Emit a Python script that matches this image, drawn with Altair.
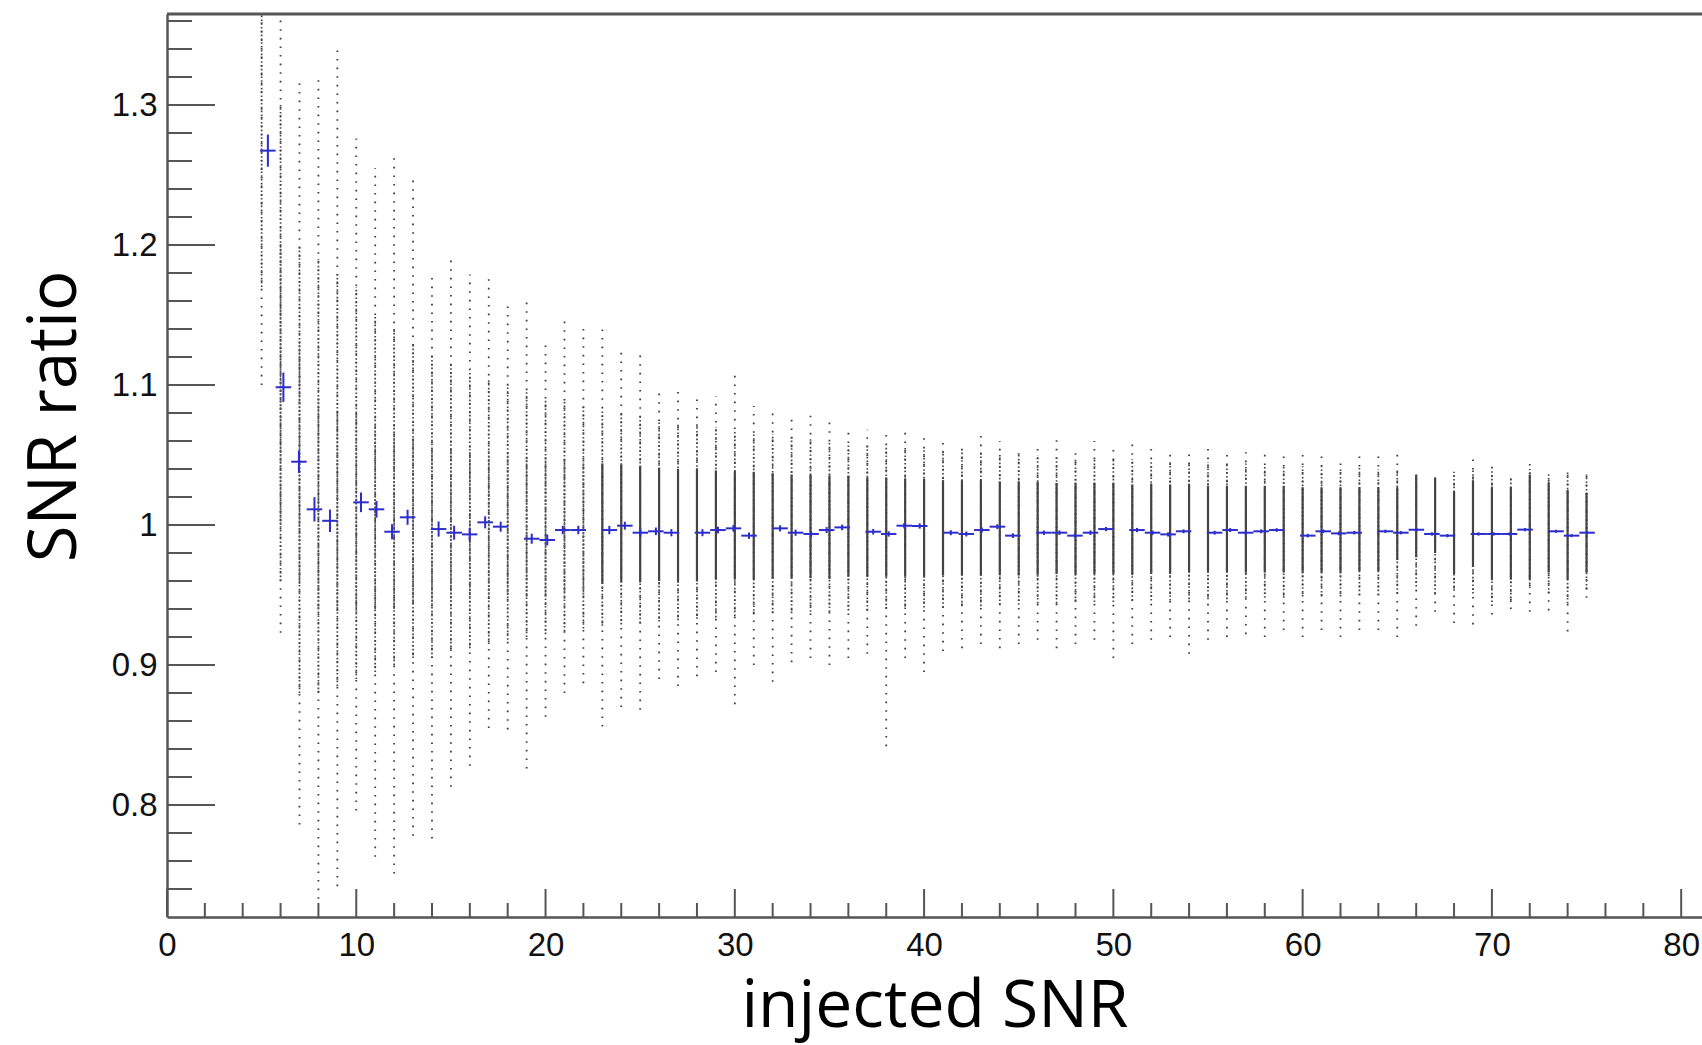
import altair as alt
import pandas as pd

# ---------------- data ----------------
# injected SNR of each scatter column
snr = [5, 6, 7, 8, 9, 10, 11, 12, 13, 14, 15, 16, 17, 18, 19, 20, 21, 22, 23, 24,
       25, 26, 27, 28, 29, 30, 31, 32, 33, 34, 35, 36, 37, 38, 39, 40, 41, 42, 43, 44,
       45, 46, 47, 48, 49, 50, 51, 52, 53, 54, 55, 56, 57, 58, 59, 60, 61, 62, 63, 64,
       65, 66, 67, 68, 69, 70, 71, 72, 73, 74, 75]
# outermost dots of each column
ext_hi = [1.365, 1.365, 1.320, 1.322, 1.339, 1.276, 1.255, 1.265, 1.249, 1.180, 1.192, 1.179, 1.177, 1.160, 1.159, 1.130, 1.146, 1.145, 1.140, 1.128,
          1.122, 1.095, 1.100, 1.093, 1.092, 1.108, 1.085, 1.082, 1.080, 1.078, 1.075, 1.070, 1.068, 1.066, 1.066, 1.062, 1.060, 1.058, 1.068, 1.060,
          1.055, 1.058, 1.062, 1.055, 1.060, 1.058, 1.062, 1.058, 1.055, 1.052, 1.055, 1.050, 1.052, 1.055, 1.052, 1.050, 1.052, 1.048, 1.050, 1.052,
          1.052, 1.036, 1.034, 1.038, 1.049, 1.043, 1.034, 1.045, 1.037, 1.039, 1.036]
ext_lo = [1.100, 0.923, 0.786, 0.733, 0.742, 0.796, 0.763, 0.751, 0.778, 0.776, 0.813, 0.828, 0.855, 0.854, 0.826, 0.863, 0.880, 0.887, 0.856, 0.870,
          0.868, 0.890, 0.885, 0.892, 0.895, 0.872, 0.900, 0.888, 0.902, 0.905, 0.900, 0.905, 0.908, 0.842, 0.905, 0.895, 0.910, 0.912, 0.915, 0.912,
          0.915, 0.918, 0.912, 0.915, 0.918, 0.905, 0.915, 0.918, 0.920, 0.908, 0.918, 0.920, 0.922, 0.920, 0.925, 0.920, 0.925, 0.920, 0.925, 0.925,
          0.920, 0.928, 0.938, 0.930, 0.929, 0.936, 0.940, 0.938, 0.939, 0.924, 0.948]
# medium-density part of each column
mid_hi = [1.365, 1.300, 1.200, 1.190, 1.180, 1.170, 1.150, 1.140, 1.130, 1.120, 1.115, 1.110, 1.105, 1.100, 1.095, 1.090, 1.090, 1.085, 1.082, 1.080,
          1.078, 1.075, 1.073, 1.072, 1.070, 1.068, 1.066, 1.065, 1.063, 1.062, 1.060, 1.058, 1.057, 1.056, 1.055, 1.054, 1.053, 1.052, 1.052, 1.051,
          1.050, 1.050, 1.049, 1.048, 1.048, 1.047, 1.047, 1.046, 1.046, 1.045, 1.045, 1.044, 1.044, 1.043, 1.043, 1.042, 1.042, 1.041, 1.041, 1.040,
          1.039, 1.036, 1.034, 1.038, 1.040, 1.040, 1.034, 1.040, 1.037, 1.039, 1.036]
mid_lo = [1.170, 0.960, 0.880, 0.880, 0.885, 0.890, 0.895, 0.900, 0.905, 0.905, 0.910, 0.912, 0.915, 0.918, 0.920, 0.922, 0.924, 0.926, 0.928, 0.929,
          0.930, 0.931, 0.932, 0.933, 0.934, 0.935, 0.936, 0.937, 0.937, 0.938, 0.938, 0.939, 0.939, 0.940, 0.940, 0.941, 0.941, 0.942, 0.942, 0.943,
          0.943, 0.944, 0.944, 0.945, 0.945, 0.945, 0.946, 0.946, 0.946, 0.947, 0.947, 0.947, 0.948, 0.948, 0.948, 0.949, 0.949, 0.949, 0.950, 0.950,
          0.951, 0.956, 0.951, 0.953, 0.951, 0.945, 0.945, 0.955, 0.951, 0.944, 0.954]
# denser (closely dotted) part of the low-SNR columns (None: not present)
dense_hi = [None, 1.200, 1.130, 1.090, 1.080, 1.080, 1.070, 1.065, 1.060, 1.055, 1.055, 1.052, 1.050, 1.050, 1.048, 1.046, 1.046, 1.045, None, None,
            None, None, None, None, None, None, None, None, None, None, None, None, None, None, None, None, None, None, None, None,
            None, None, None, None, None, None, None, None, None, None, None, None, None, None, None, None, None, None, None, None,
            None, None, None, None, None, None, None, None, None, None, None]
dense_lo = [None, 1.000, 0.960, 0.940, 0.940, 0.940, 0.940, 0.940, 0.945, 0.945, 0.945, 0.948, 0.948, 0.950, 0.950, 0.950, 0.952, 0.952, None, None,
            None, None, None, None, None, None, None, None, None, None, None, None, None, None, None, None, None, None, None, None,
            None, None, None, None, None, None, None, None, None, None, None, None, None, None, None, None, None, None, None, None,
            None, None, None, None, None, None, None, None, None, None, None]
# almost solid core of the higher-SNR columns (None: no core)
core_hi = [None, None, None, None, None, None, None, None, None, None, None, None, None, None, None, None, None, None, 1.044, 1.043,
           1.042, 1.041, 1.040, 1.040, 1.039, 1.038, 1.038, 1.037, 1.036, 1.036, 1.035, 1.035, 1.034, 1.034, 1.033, 1.033, 1.032, 1.032, 1.032, 1.031,
           1.031, 1.031, 1.030, 1.030, 1.030, 1.030, 1.029, 1.029, 1.029, 1.029, 1.028, 1.028, 1.028, 1.028, 1.028, 1.027, 1.027, 1.027, 1.027, 1.027,
           1.027, 1.036, 1.034, 1.024, 1.032, 1.027, 1.027, 1.036, 1.030, 1.025, 1.023]
core_lo = [None, None, None, None, None, None, None, None, None, None, None, None, None, None, None, None, None, None, 0.958, 0.959,
           0.959, 0.960, 0.960, 0.960, 0.961, 0.961, 0.961, 0.962, 0.962, 0.962, 0.962, 0.963, 0.963, 0.963, 0.963, 0.963, 0.964, 0.964, 0.964, 0.964,
           0.964, 0.964, 0.965, 0.965, 0.965, 0.965, 0.965, 0.965, 0.965, 0.966, 0.966, 0.966, 0.966, 0.966, 0.966, 0.966, 0.966, 0.966, 0.967, 0.967,
           0.975, 0.977, 0.980, 0.965, 0.970, 0.961, 0.961, 0.961, 0.966, 0.961, 0.966]

# profile (blue crosses): bin centre, mean, error on mean, bin half-width
prof_x = [5.33, 6.15, 6.97, 7.79, 8.61, 10.25, 11.07, 11.89, 12.71, 14.35, 15.17, 15.99, 16.81, 17.63, 19.27, 20.09, 20.91, 21.73,
          23.37, 24.19, 25.01, 25.83, 26.65, 28.29, 29.11, 29.93, 30.75, 32.39, 33.21, 34.03, 34.85, 35.67, 37.31, 38.13, 38.95, 39.77,
          41.41, 42.23, 43.05, 43.87, 44.69, 46.33, 47.15, 47.97, 48.79, 49.61, 51.25, 52.07, 52.89, 53.71, 55.35, 56.17, 56.99, 57.81,
          58.63, 60.27, 61.09, 61.91, 62.73, 64.37, 65.19, 66.01, 66.83, 67.65, 69.29, 70.11, 70.93, 71.75, 73.39, 74.21, 75.03]
prof_y = [1.2674, 1.0984, 1.0452, 1.0112, 1.0030, 1.0162, 1.0112, 0.9952, 1.0055, 0.9971, 0.9945, 0.9933, 1.0019, 0.9988, 0.9902, 0.9893, 0.9964, 0.9964,
          0.9964, 0.9995, 0.9945, 0.9955, 0.9945, 0.9945, 0.9964, 0.9976, 0.9924, 0.9976, 0.9945, 0.9936, 0.9964, 0.9983, 0.9952, 0.9936, 0.9995, 0.9993,
          0.9945, 0.9936, 0.9964, 0.9988, 0.9924, 0.9945, 0.9945, 0.9924, 0.9945, 0.9971, 0.9964, 0.9945, 0.9933, 0.9955, 0.9945, 0.9964, 0.9945, 0.9955,
          0.9964, 0.9924, 0.9955, 0.9940, 0.9945, 0.9955, 0.9945, 0.9966, 0.9936, 0.9924, 0.9936, 0.9936, 0.9936, 0.9967, 0.9955, 0.9924, 0.9945]
prof_err = [0.0115, 0.0105, 0.0080, 0.0087, 0.0080, 0.0070, 0.0060, 0.0054, 0.0054, 0.0054, 0.0050, 0.0045, 0.0043, 0.0036, 0.0036, 0.0039, 0.0030, 0.0030,
            0.0030, 0.0028, 0.0028, 0.0027, 0.0026, 0.0025, 0.0024, 0.0024, 0.0023, 0.0022, 0.0022, 0.0021, 0.0021, 0.0020, 0.0020, 0.0019, 0.0019, 0.0019,
            0.0018, 0.0018, 0.0018, 0.0017, 0.0017, 0.0016, 0.0016, 0.0016, 0.0016, 0.0015, 0.0015, 0.0015, 0.0015, 0.0014, 0.0014, 0.0014, 0.0014, 0.0014,
            0.0013, 0.0013, 0.0013, 0.0013, 0.0013, 0.0012, 0.0012, 0.0012, 0.0012, 0.0012, 0.0012, 0.0011, 0.0011, 0.0011, 0.0011, 0.0011, 0.0011]
bin_half = 0.41

# axes
x_domain = [0, 81.1]
y_domain = [0.72, 1.365]
x_major = [0, 10, 20, 30, 40, 50, 60, 70, 80]
x_minor = [2, 4, 6, 8, 12, 14, 16, 18, 22, 24, 26, 28, 32, 34, 36, 38, 42, 44, 46, 48,
           52, 54, 56, 58, 62, 64, 66, 68, 72, 74, 76, 78]
y_major = [0.8, 0.9, 1.0, 1.1, 1.2, 1.3]
y_minor = [0.74, 0.76, 0.78, 0.82, 0.84, 0.86, 0.88, 0.92, 0.94, 0.96, 0.98, 1.02, 1.04, 1.06,
           1.08, 1.12, 1.14, 1.16, 1.18, 1.22, 1.24, 1.26, 1.28, 1.32, 1.34, 1.36]

# ---------------- tables ----------------
cols = pd.DataFrame({"snr": snr, "ext_hi": ext_hi, "ext_lo": ext_lo, "mid_hi": mid_hi,
                     "mid_lo": mid_lo, "dense_hi": dense_hi, "dense_lo": dense_lo,
                     "core_hi": core_hi, "core_lo": core_lo})
prof = pd.DataFrame({"x": prof_x, "y": prof_y, "err": prof_err})
prof["lo"] = prof["y"] - prof["err"]
prof["hi"] = prof["y"] + prof["err"]
prof["xl"] = prof["x"] - bin_half
prof["xr"] = prof["x"] + bin_half

W, H = 1535, 903
xs = alt.Scale(domain=x_domain, nice=False, zero=False)
ys = alt.Scale(domain=y_domain, nice=False, zero=False)

x_axis = alt.Axis(values=x_major, format="d", ticks=False, tickSize=0, grid=False,
                  domain=True, domainColor="#555555", domainWidth=2.5,
                  labelFont="Liberation Sans", labelFontSize=33, labelColor="#111111",
                  labelPadding=12, labelFlush=False, labelOverlap=False,
                  title="injected SNR", titleFont="Open Sans", titleFontSize=66,
                  titleFontWeight="normal", titleColor="#000000",
                  titleBaseline="alphabetic", titleY=109)
y_axis = alt.Axis(values=y_major, format="~g", ticks=False, tickSize=0, grid=False,
                  domain=True, domainColor="#555555", domainWidth=2.5,
                  labelFont="Liberation Sans", labelFontSize=33, labelColor="#111111",
                  labelPadding=10, labelFlush=False, labelOverlap=False,
                  title="SNR ratio", titleFont="Open Sans", titleFontSize=67,
                  titleFontWeight="normal", titleColor="#000000",
                  titleBaseline="alphabetic", titleAlign="center", titleAngle=270,
                  titleX=-92, titleY=402)


def X(field):
    return alt.X(field, type="quantitative", scale=xs, axis=x_axis)


def Y(field):
    return alt.Y(field, type="quantitative", scale=ys, axis=y_axis)


colbase = alt.Chart(cols)
ext = colbase.mark_rule(color="#3c3c3c", strokeWidth=1.8, strokeDash=[1.6, 7], clip=True).encode(
    x=X("snr"), y=Y("ext_lo"), y2="ext_hi")
mid = colbase.mark_rule(color="#444444", strokeWidth=1.7, strokeDash=[1.6, 2.2], clip=True).encode(
    x=X("snr"), y=Y("mid_lo"), y2="mid_hi")
dense = colbase.mark_rule(color="#555555", strokeWidth=1.6, strokeDash=[2.0, 1.6], clip=True).encode(
    x=X("snr"), y=Y("dense_lo"), y2="dense_hi")
core = colbase.mark_rule(color="#444444", strokeWidth=2.2, clip=True).encode(
    x=X("snr"), y=Y("core_lo"), y2="core_hi")

blue = "#2d2dcc"
pbase = alt.Chart(prof)
p_h = pbase.mark_rule(color=blue, strokeWidth=2).encode(
    x=X("xl"), x2="xr", y=Y("y"))
p_v = pbase.mark_rule(color=blue, strokeWidth=2).encode(
    x=X("x"), y=Y("lo"), y2="hi")

tick_col = "#555555"
ymaj = alt.Chart(pd.DataFrame({"v": y_major})).mark_rule(color=tick_col, strokeWidth=2).encode(
    y=Y("v"), x=alt.value(0), x2=alt.value(48))
ymin = alt.Chart(pd.DataFrame({"v": y_minor})).mark_rule(color=tick_col, strokeWidth=2).encode(
    y=Y("v"), x=alt.value(0), x2=alt.value(25))
xmaj = alt.Chart(pd.DataFrame({"v": x_major})).mark_rule(color=tick_col, strokeWidth=2).encode(
    x=X("v"), y=alt.value(H), y2=alt.value(H - 28))
xmin = alt.Chart(pd.DataFrame({"v": x_minor})).mark_rule(color=tick_col, strokeWidth=2).encode(
    x=X("v"), y=alt.value(H), y2=alt.value(H - 14))
top = alt.Chart(pd.DataFrame({"v": [y_domain[1]]})).mark_rule(color="#555555", strokeWidth=3).encode(
    y=Y("v"))

chart = alt.layer(ext, mid, dense, core, p_h, p_v, ymaj, ymin, xmaj, xmin, top).properties(
    width=W, height=H,
    autosize=alt.AutoSizeParams(type="none"),
    padding={"left": 167, "top": 14, "right": 0, "bottom": 128},
    background="white",
).configure_view(stroke=None)

chart.save("out.html", embed_options={"renderer": "svg", "actions": False})
